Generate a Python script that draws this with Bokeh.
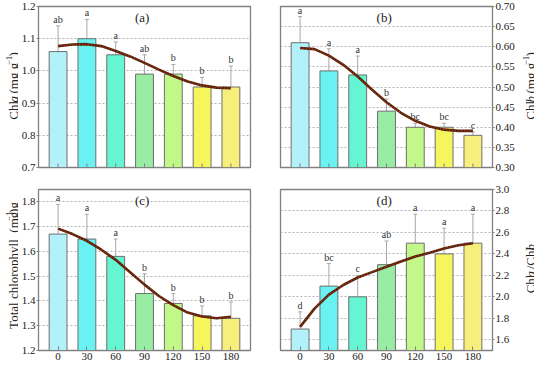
import math
from bokeh.plotting import figure
from bokeh.layouts import gridplot
from bokeh.models import FixedTicker, Whisker, ColumnDataSource, TeeHead, Label, CustomJSTickFormatter
from bokeh.core.properties import value
from bokeh.embed import file_html
from bokeh.resources import INLINE

days = [0, 30, 60, 90, 120, 150, 180]
day_labels = ["0", "30", "60", "90", "120", "150", "180"]
colors = ["#b2f0fa", "#6af2f2", "#66f5d2", "#98eca4", "#c2f78a", "#f5f55e", "#f7ef7c"]

chla = [1.06, 1.10, 1.05, 0.99, 0.99, 0.95, 0.95]
chla_err = [0.08, 0.06, 0.04, 0.06, 0.03, 0.03, 0.065]
chla_sig = ["ab", "a", "a", "ab", "b", "b", "b"]

chlb = [0.61, 0.54, 0.53, 0.44, 0.40, 0.40, 0.38]
chlb_err = [0.065, 0.055, 0.047, 0.03, 0.01, 0.01, 0.008]
chlb_sig = ["a", "a", "a", "b", "bc", "bc", "c"]

total = [1.67, 1.65, 1.58, 1.43, 1.39, 1.34, 1.33]
total_err = [0.12, 0.10, 0.07, 0.08, 0.04, 0.04, 0.066]
total_sig = ["a", "a", "a", "b", "b", "b", "b"]

ratio = [1.70, 2.10, 2.00, 2.30, 2.50, 2.40, 2.50]
ratio_err = [0.16, 0.21, 0.20, 0.22, 0.27, 0.24, 0.27]
ratio_sig = ["d", "bc", "c", "ab", "a", "a", "a"]

fit_days = [0, 15, 30, 45, 60, 75, 90, 105, 120, 135, 150, 165, 180]
chla_fit = [1.077, 1.082, 1.083, 1.077, 1.062, 1.045, 1.025, 1.004, 0.984, 0.967, 0.955, 0.948, 0.946]
chlb_fit = [0.597, 0.594, 0.578, 0.555, 0.526, 0.493, 0.462, 0.436, 0.416, 0.402, 0.394, 0.391, 0.391]
total_fit = [1.692, 1.670, 1.643, 1.607, 1.566, 1.516, 1.466, 1.420, 1.383, 1.353, 1.337, 1.330, 1.336]
ratio_fit = [1.72, 1.89, 2.02, 2.11, 2.18, 2.23, 2.28, 2.33, 2.375, 2.41, 2.45, 2.48, 2.50]

# axis label pieces: (text, italic, superscript)
label_a = [("Chl", False, False), ("a", True, False), (" (mg g", False, False), ("\u22121", False, True), (")", False, False)]
label_b = [("Chl", False, False), ("b", True, False), (" (mg g", False, False), ("\u22121", False, True), (")", False, False)]
label_c = [("Total chlorophyll  (mg g", False, False), ("\u22121", False, True), (")", False, False)]
label_d = [("Chl", False, False), ("a", True, False), (" /Chl", False, False), ("b", True, False)]

FONT = "Liberation Serif"
GRAY = "#808080"
TXT = "#222222"
XR = (-0.68, 6.68)

# approximate Times / Liberation Serif advance widths (per 1000 em)
W_NORMAL = {'C': 667, 'h': 500, 'l': 278, 'a': 444, 'b': 500, ' ': 250, '(': 333, ')': 333,
            'm': 778, 'g': 500, 'T': 611, 'o': 500, 't': 278, 'c': 444, 'r': 333, 'p': 500,
            'y': 500, '/': 278, '\u2212': 564, '1': 500}
W_ITALIC = {'a': 500, 'b': 500}


def text_width(s, italic, size):
    tbl = W_ITALIC if italic else W_NORMAL
    return sum(tbl.get(ch, W_NORMAL.get(ch, 500)) for ch in s) * size / 1000.0


def label_column(pieces, width, height, borders, base_x, size=13, sup_size=9, sup_shift=5):
    """A narrow figure holding a rotated, mixed-style axis title (pixel data units)."""
    f = figure(width=width, height=height, output_backend="svg", toolbar_location=None,
               x_range=(0, width), y_range=(0, height), x_axis_location=None, y_axis_location=None,
               min_border_top=0, min_border_bottom=0, min_border_left=0, min_border_right=0)
    f.outline_line_color = None
    f.xgrid.visible = False
    f.ygrid.visible = False
    frame_h = height - borders[0] - borders[1]
    yc = borders[1] + frame_h / 2.0
    widths = [text_width(t, it, sup_size if sp else size) for t, it, sp in pieces]
    y0 = yc - sum(widths) / 2.0
    xs, ys, txt, fs, st = [], [], [], [], []
    cum = 0.0
    for (t, it, sp), w in zip(pieces, widths):
        sz = sup_size if sp else size
        lead = len(t) - len(t.lstrip(" "))
        shown = t.strip(" ").replace("  ", "\u00a0 ")
        xs.append(base_x - (sup_shift if sp else 0))
        ys.append(y0 + cum + text_width(" " * lead, False, sz))
        txt.append(shown)
        fs.append(f"{sz}px")
        st.append("italic" if it else "normal")
        cum += w
    src = ColumnDataSource(dict(x=xs, y=ys, t=txt, fs=fs, st=st))
    f.text(x="x", y="y", text="t", source=src, angle=math.pi / 2, text_font=value(FONT),
           text_font_size="fs", text_font_style="st", text_align="left",
           text_baseline="alphabetic", text_color=TXT)
    return f


def panel(vals, errs, sig, fit, ylim, yticks, fmt, tag, right, bottom, width, height, borders):
    frame_h = height - borders[0] - borders[1]
    p = figure(width=width, height=height, output_backend="svg", toolbar_location=None,
               x_range=XR, y_range=ylim,
               y_axis_location="right" if right else "left",
               x_axis_location="below" if bottom else None,
               min_border_top=borders[0], min_border_bottom=borders[1],
               min_border_left=borders[2], min_border_right=borders[3])
    idx = list(range(len(days)))
    tops = [v + e for v, e in zip(vals, errs)]
    src = ColumnDataSource(dict(x=idx, top=vals, upper=tops, c=colors, sig=sig))
    p.vbar(x="x", top="top", bottom=ylim[0], width=0.62, fill_color="c",
           line_color="#6e6e6e", line_width=1, source=src)
    w = Whisker(base="x", lower="top", upper="upper", source=src, line_color="#a8a8a8",
                line_width=1, lower_head=None,
                upper_head=TeeHead(size=4, line_color="#a8a8a8", line_width=1))
    p.add_layout(w)
    p.text(x="x", y="upper", text="sig", source=src, text_font=value(FONT),
           text_font_size="10px", text_align="center", text_baseline="bottom",
           text_color="#333333", y_offset=-1)
    fx = [d / 30 for d in fit_days]
    p.line(fx, fit, line_color="#4e2610", line_width=2.6)
    p.line(fx, fit, line_color="#d42a00", line_width=1.3, line_dash="1 2")
    ppy = frame_h / (ylim[1] - ylim[0])
    p.add_layout(Label(x=2.92, y=ylim[1] - 11 / ppy, text=tag, text_font=FONT, text_font_size="13px",
                       text_align="center", text_baseline="middle", text_color=TXT))

    p.xgrid.visible = False
    p.ygrid.grid_line_color = "#b4b4b4"
    p.ygrid.grid_line_dash = "2 2"
    p.ygrid.grid_line_width = 1
    p.outline_line_color = GRAY
    p.outline_line_width = 1.3

    if bottom:
        p.xaxis.ticker = FixedTicker(ticks=idx)
        p.xaxis.major_label_overrides = {i: l for i, l in enumerate(day_labels)}
        p.xaxis.major_tick_in = 4
        p.xaxis.major_tick_out = 0
        p.xaxis.minor_tick_line_color = None
        p.xaxis.axis_line_color = GRAY
        p.xaxis.major_tick_line_color = GRAY
        p.xaxis.major_label_standoff = 2
        p.xaxis.major_label_text_font = FONT
        p.xaxis.major_label_text_color = TXT
        p.xaxis.major_label_text_font_size = "11px"
    else:
        tick = 4 / ppy
        p.segment(x0=idx, y0=[ylim[0]] * len(idx), x1=idx, y1=[ylim[0] + tick] * len(idx),
                  line_color=GRAY, line_width=1)

    p.yaxis.ticker = FixedTicker(ticks=yticks)
    p.yaxis.formatter = CustomJSTickFormatter(code=f"return tick.toFixed({fmt});")
    p.yaxis.minor_tick_line_color = None
    p.yaxis.major_tick_in = 0
    p.yaxis.major_tick_out = 2
    p.yaxis.axis_line_color = GRAY
    p.yaxis.major_tick_line_color = GRAY
    p.yaxis.major_label_standoff = 1
    p.yaxis.major_label_text_font = FONT
    p.yaxis.major_label_text_font_size = "11px"
    p.yaxis.major_label_text_color = TXT
    return p


TOP_B = (6, 8, 17, 15)
TOP_BR = (6, 8, 15, 23)
BOT_B = (14, 16, 17, 15)
BOT_BR = (14, 16, 15, 23)
TOP_H, BOT_H = 175, 191
LW, RW = 18, 17

lim_a, lim_b, lim_c, lim_d = (0.7, 1.2), (0.3, 0.7), (1.2, 1.85), (1.5, 3.0)

pa = panel(chla, chla_err, chla_sig, chla_fit, lim_a, [0.7, 0.8, 0.9, 1.0, 1.1, 1.2], 1,
           "(a)", False, False, 247, TOP_H, TOP_B)
pb = panel(chlb, chlb_err, chlb_sig, chlb_fit, lim_b,
           [0.30, 0.35, 0.40, 0.45, 0.50, 0.55, 0.60, 0.65, 0.70], 2,
           "(b)", True, False, 252, TOP_H, TOP_BR)
pc = panel(total, total_err, total_sig, total_fit, lim_c, [1.2, 1.3, 1.4, 1.5, 1.6, 1.7, 1.8], 1,
           "(c)", False, True, 247, BOT_H, BOT_B)
pd_ = panel(ratio, ratio_err, ratio_sig, ratio_fit, lim_d, [1.6, 1.8, 2.0, 2.2, 2.4, 2.6, 2.8, 3.0], 1,
            "(d)", True, True, 252, BOT_H, BOT_BR)

la = label_column(label_a, LW, TOP_H, TOP_B, 13)
lb = label_column(label_b, RW, TOP_H, TOP_BR, 13)
lc = label_column(label_c, LW, BOT_H, BOT_B, 13)
ld = label_column(label_d, RW, BOT_H, BOT_BR, 13)

grid = gridplot([[la, pa, pb, lb], [lc, pc, pd_, ld]], toolbar_location=None)
open("out.html", "w").write(file_html(grid, INLINE))
